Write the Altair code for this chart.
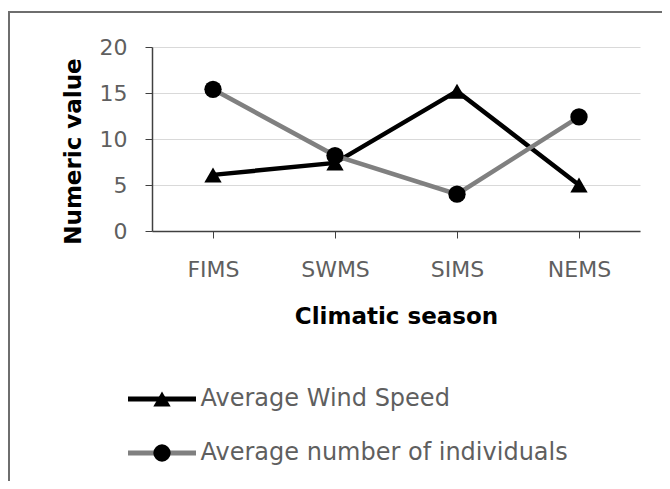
import altair as alt
import pandas as pd

seasons = ["FIMS", "SWMS", "SIMS", "NEMS"]
series_names = ["Average Wind Speed", "Average number of individuals"]
wind_speed = [6.1, 7.4, 15.2, 5.0]
individuals = [15.4, 8.2, 4.0, 12.4]
y_ticks = [0, 5, 10, 15, 20]

rows = []
for name, vals in zip(series_names, [wind_speed, individuals]):
    for s, v in zip(seasons, vals):
        rows.append({"season": s, "series": name, "marker": name, "value": v})
df = pd.DataFrame(rows)

FONT = "DejaVu Sans"
GRAY_TXT = "#5f5f5f"
AXIS_COL = "#404040"

x = alt.X(
    "season:N",
    sort=seasons,
    scale=alt.Scale(type="point", padding=0.5),
    axis=alt.Axis(
        title="Climatic season",
        labelAngle=0,
        labelFont=FONT,
        labelFontSize=22,
        labelColor=GRAY_TXT,
        labelBaseline="alphabetic",
        labelPadding=38,
        tickSize=7,
        tickColor=AXIS_COL,
        domainColor=AXIS_COL,
        domainWidth=1.5,
        grid=False,
        titleFont=FONT,
        titleFontSize=23,
        titleFontWeight="bold",
        titleColor="#000000",
        titleBaseline="alphabetic",
        titleY=92,
    ),
)
y = alt.Y(
    "value:Q",
    scale=alt.Scale(domain=[0, 20]),
    axis=alt.Axis(
        title="Numeric value",
        values=y_ticks,
        labelFont=FONT,
        labelFontSize=22,
        labelColor=GRAY_TXT,
        labelPadding=18,
        tickSize=7,
        tickColor=AXIS_COL,
        domainColor=AXIS_COL,
        domainWidth=1.5,
        grid=True,
        gridColor="#d9d9d9",
        gridWidth=1.2,
        titleFont=FONT,
        titleFontSize=23,
        titleFontWeight="bold",
        titleColor="#000000",
        titleBaseline="alphabetic",
        titleX=-72,
        titleY=104,
    ),
)

base = alt.Chart(df)

lines = base.mark_line(strokeWidth=4.5).encode(
    x=x,
    y=y,
    color=alt.Color(
        "series:N",
        scale=alt.Scale(domain=series_names, range=["#000000", "#808080"]),
        legend=alt.Legend(
            title=None,
            orient="none",
            legendX=-26.5,
            legendY=341,
            symbolType="stroke",
            symbolSize=4624,
            symbolStrokeWidth=5,
            clipHeight=22,
            labelOffset=2,
            labelFont=FONT,
            labelFontSize=24,
            labelColor=GRAY_TXT,
            labelLimit=500,
            rowPadding=30,
            padding=0,
        ),
    ),
)

points = base.mark_point(filled=True, size=300, color="#000000", opacity=1).encode(
    x=x,
    y=y,
    shape=alt.Shape(
        "marker:N",
        scale=alt.Scale(domain=series_names, range=["triangle-up", "circle"]),
        legend=alt.Legend(
            title=None,
            orient="none",
            legendX=-26.5,
            legendY=341,
            symbolSize=300,
            symbolStrokeWidth=0,
            symbolFillColor="#000000",
            symbolOffset=24.5,
            clipHeight=22,
            labelOffset=2,
            labelFont=FONT,
            labelFontSize=24,
            labelColor=GRAY_TXT,
            labelExpr="' '",
            labelLimit=500,
            rowPadding=30,
            padding=0,
        ),
    ),
)

frame_df = pd.DataFrame({"k": [0]})
frame_top = alt.Chart(frame_df).mark_rule(color="#6e6e6e", strokeWidth=2).encode(
    x=alt.value(-144), x2=alt.value(510), y=alt.value(-35)
)
frame_left = alt.Chart(frame_df).mark_rule(color="#6e6e6e", strokeWidth=2).encode(
    x=alt.value(-143), y=alt.value(-35), y2=alt.value(450)
)

chart = (
    alt.layer(frame_top, frame_left, lines, points)
    .resolve_legend(color="independent", shape="independent")
    .properties(
        width=488,
        height=184,
        padding={"left": 144, "top": 39, "right": 22, "bottom": 250},
        autosize=alt.AutoSizeParams(type="none"),
        background="#ffffff",
    )
    .configure_view(stroke=None)
)

chart.save("out.html", embed_options={"renderer": "svg", "actions": False})
